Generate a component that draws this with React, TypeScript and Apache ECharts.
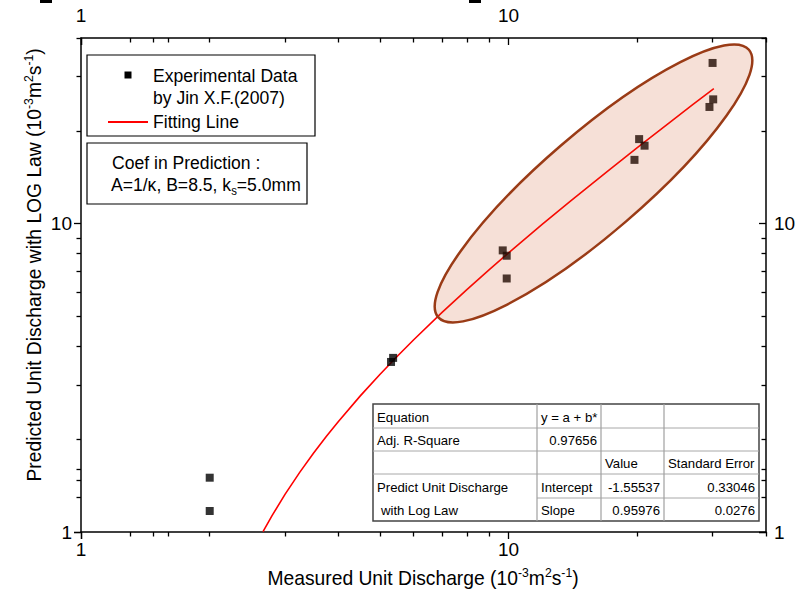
import React, { useEffect, useRef } from "react";
import * as echarts from "echarts";

const FONT = "'Liberation Sans', Arial, Helvetica, sans-serif";

// Experimental data (Jin X.F., 2007): measured vs predicted unit discharge (10^-3 m^2 s^-1)
const expMeasured = [2.0, 2.0, 5.31, 5.37, 9.69, 9.9, 9.9, 19.7, 20.2, 20.8, 29.5, 30.0, 30.1];
const expPredicted = [1.5, 1.17, 3.56, 3.67, 8.19, 7.87, 6.64, 16.1, 18.8, 17.9, 23.9, 33.2, 25.3];

// Fitting line y = a + b*x (parameters from the fit table)
const fitIntercept = -1.55537;
const fitSlope = 0.95976;
const fitMeasured = [2.665, 2.8, 3.0, 3.25, 3.5, 3.75, 4.0, 4.5, 5.0, 5.5, 6.0, 7.0, 8.0, 9.0, 10, 12, 14, 17, 20, 24, 27, 30.2];

const axisMin = 1;
const axisMax = 40;
const majorTicks = [1, 10];
const minorTicks = [2, 3, 4, 5, 6, 7, 8, 9, 20, 30, 40];

const tableRows = [
  ["Equation", "y = a + b*", "", ""],
  ["Adj. R-Square", "0.97656", "", ""],
  ["", "", "Value", "Standard Error"],
  ["Predict Unit Discharge", "Intercept", "-1.55537", "0.33046"],
  ["with Log Law", "Slope", "0.95976", "0.0276"],
];
const tableAlign = [
  ["left", "left", "left", "left"],
  ["left", "right", "left", "left"],
  ["left", "left", "left", "left"],
  ["left", "left", "right", "right"],
  ["left", "left", "right", "right"],
];

const ellipseCenter = [15.8, 13.5];

// tick values given both in linear form and log-space form (whichever the log scale expects)
const hedge = (vals: number[]) => vals.concat(vals.map((v) => Math.log10(v)));

function makeAxis(position: string, kind: "major" | "minor", inside: boolean, labelMargin: number) {
  const isMajor = kind === "major";
  return {
    type: "log",
    logBase: 10,
    min: axisMin,
    max: axisMax,
    position,
    axisLine: { show: isMajor, onZero: false, lineStyle: { color: "#000", width: 1.5 } },
    axisTick: {
      show: true,
      inside,
      length: isMajor ? 7 : 4.5,
      lineStyle: { color: "#000", width: 1.3 },
      customValues: hedge(isMajor ? majorTicks : minorTicks),
    },
    minorTick: { show: false },
    splitLine: { show: false },
    axisLabel: {
      show: isMajor,
      fontSize: 19,
      color: "#000",
      fontFamily: FONT,
      margin: labelMargin,
      showMaxLabel: false,
      showMinLabel: true,
    },
  };
}

export default function App() {
  const ref = useRef<HTMLDivElement>(null);

  useEffect(() => {
    document.body.style.margin = "0";
    const el = ref.current;
    if (!el) return;
    const chart = echarts.init(el, null, { renderer: "svg" });

    const scatterData = expMeasured.map((x, i) => [x, expPredicted[i]]);
    const fitData = fitMeasured.map((x) => [x, fitIntercept + fitSlope * x]);

    chart.setOption({
      animation: false,
      backgroundColor: "#fff",
      grid: { left: 81, right: 38, top: 38, bottom: 60, containLabel: false },
      xAxis: [
        makeAxis("bottom", "major", false, 8),
        makeAxis("bottom", "minor", false, 8),
        makeAxis("top", "major", true, 13),
        makeAxis("top", "minor", true, 13),
      ],
      yAxis: [
        makeAxis("left", "major", false, 9),
        makeAxis("left", "minor", false, 9),
        makeAxis("right", "major", true, 8),
        makeAxis("right", "minor", true, 8),
      ],
      series: [
        {
          name: "Fitting Line",
          type: "line",
          xAxisIndex: 0,
          yAxisIndex: 0,
          data: fitData,
          showSymbol: false,
          symbol: "none",
          smooth: false,
          clip: true,
          lineStyle: { color: "#ff0000", width: 1.6 },
          z: 2,
        },
        {
          name: "Experimental Data",
          type: "scatter",
          xAxisIndex: 0,
          yAxisIndex: 0,
          data: scatterData,
          symbol: "rect",
          symbolSize: 8,
          itemStyle: { color: "#000" },
          z: 3,
        },
      ],
    });

    const c = chart.convertToPixel({ xAxisIndex: 0, yAxisIndex: 0 }, ellipseCenter) as number[];

    const elements: any[] = [];
    const txt = (text: string, x: number, y: number, fontSize: number, align = "left", extra: any = {}) => ({
      type: "text",
      x,
      y,
      z: 30,
      ...extra,
      style: {
        text,
        fill: "#000",
        fontSize,
        fontFamily: FONT,
        align,
        verticalAlign: "middle",
        ...(extra.style || {}),
      },
    });

    // ellipse highlighting the cluster
    elements.push({
      type: "ellipse",
      x: c[0],
      y: c[1],
      rotation: (40.7 * Math.PI) / 180,
      shape: { cx: 0, cy: 0, rx: 205, ry: 50 },
      style: { fill: "rgba(200,70,20,0.17)", stroke: "#9a3b16", lineWidth: 2.5 },
      z: 10,
    });

    // clipped marks at top edge
    elements.push({ type: "rect", shape: { x: 40, y: 0, width: 12, height: 3 }, style: { fill: "#000" }, z: 30 });
    elements.push({ type: "rect", shape: { x: 469, y: 0, width: 12, height: 3 }, style: { fill: "#000" }, z: 30 });

    const legendText = { scaleX: 0.95 };
    // legend box
    elements.push({ type: "rect", shape: { x: 87, y: 55, width: 228, height: 81 }, style: { fill: "#fff", stroke: "#000", lineWidth: 1.2 }, z: 25 });
    elements.push({ type: "rect", shape: { x: 124.5, y: 71.5, width: 7, height: 7 }, style: { fill: "#000" }, z: 30 });
    elements.push(txt("Experimental Data", 153, 76, 18.5, "left", legendText));
    elements.push(txt("by Jin X.F.(2007)", 153, 98, 18.5, "left", legendText));
    elements.push({ type: "line", shape: { x1: 108, y1: 122, x2: 148, y2: 122 }, style: { stroke: "#ff0000", lineWidth: 2 }, z: 30 });
    elements.push(txt("Fitting Line", 153, 122, 18.5, "left", legendText));

    // coefficient box
    elements.push({ type: "rect", shape: { x: 87, y: 143, width: 220, height: 61 }, style: { fill: "#fff", stroke: "#000", lineWidth: 1.2 }, z: 25 });
    elements.push(txt("Coef in Prediction :", 112, 163, 18.5, "left", legendText));
    elements.push(
      txt("A=1/κ, B=8.5, k{sub|s}=5.0mm", 111, 185, 18.5, "left", {
        scaleX: 0.95,
        style: { rich: { sub: { fontSize: 12, fontFamily: FONT, fill: "#000", padding: [11, 0, 0, 0] } } },
      })
    );

    // fit table
    const colX = [373, 537, 601, 664, 759];
    const rowY = [404, 428, 451, 474, 498, 521];
    elements.push({
      type: "rect",
      shape: { x: colX[0], y: rowY[0], width: colX[4] - colX[0], height: rowY[5] - rowY[0] },
      style: { fill: "#fff", stroke: "#444", lineWidth: 1.5 },
      z: 25,
    });
    for (let r = 1; r < 5; r++) {
      const xStart = r === 4 ? colX[1] : colX[0];
      elements.push({ type: "line", shape: { x1: xStart, y1: rowY[r], x2: colX[4], y2: rowY[r] }, style: { stroke: "#a8a8a8", lineWidth: 1 }, z: 26 });
    }
    for (let k = 1; k < 4; k++) {
      elements.push({ type: "line", shape: { x1: colX[k], y1: rowY[0], x2: colX[k], y2: rowY[5] }, style: { stroke: "#a0a0a0", lineWidth: 1.2 }, z: 26 });
    }
    tableRows.forEach((row, r) => {
      row.forEach((cell, k) => {
        if (!cell) return;
        const al = tableAlign[r][k];
        let x = al === "left" ? colX[k] + 4 : colX[k + 1] - 4;
        if (r === 4 && k === 0) x += 4;
        const y = (rowY[r] + rowY[r + 1]) / 2 + 1;
        elements.push(txt(cell, x, y, 13.2, al));
      });
    });

    // axis titles
    const supRich = { sup: { fontSize: 13, fontFamily: FONT, fill: "#000", padding: [0, 0, 11, 0] } };
    elements.push(
      txt("Measured Unit Discharge (10{sup|-3}m{sup|2}s{sup|-1})", 423, 578, 20.5, "center", {
        scaleX: 0.94,
        style: { rich: supRich },
      })
    );
    elements.push(
      txt("Predicted Unit Discharge with LOG Law (10{sup|-3}m{sup|2}s{sup|-1})", 34, 265, 20.5, "center", {
        rotation: Math.PI / 2,
        scaleX: 0.94,
        style: { rich: supRich },
      })
    );

    chart.setOption({ graphic: { elements } });

    return () => chart.dispose();
  }, []);

  return <div ref={ref} style={{ position: "absolute", left: 0, top: 0, width: 804, height: 592 }} />;
}
